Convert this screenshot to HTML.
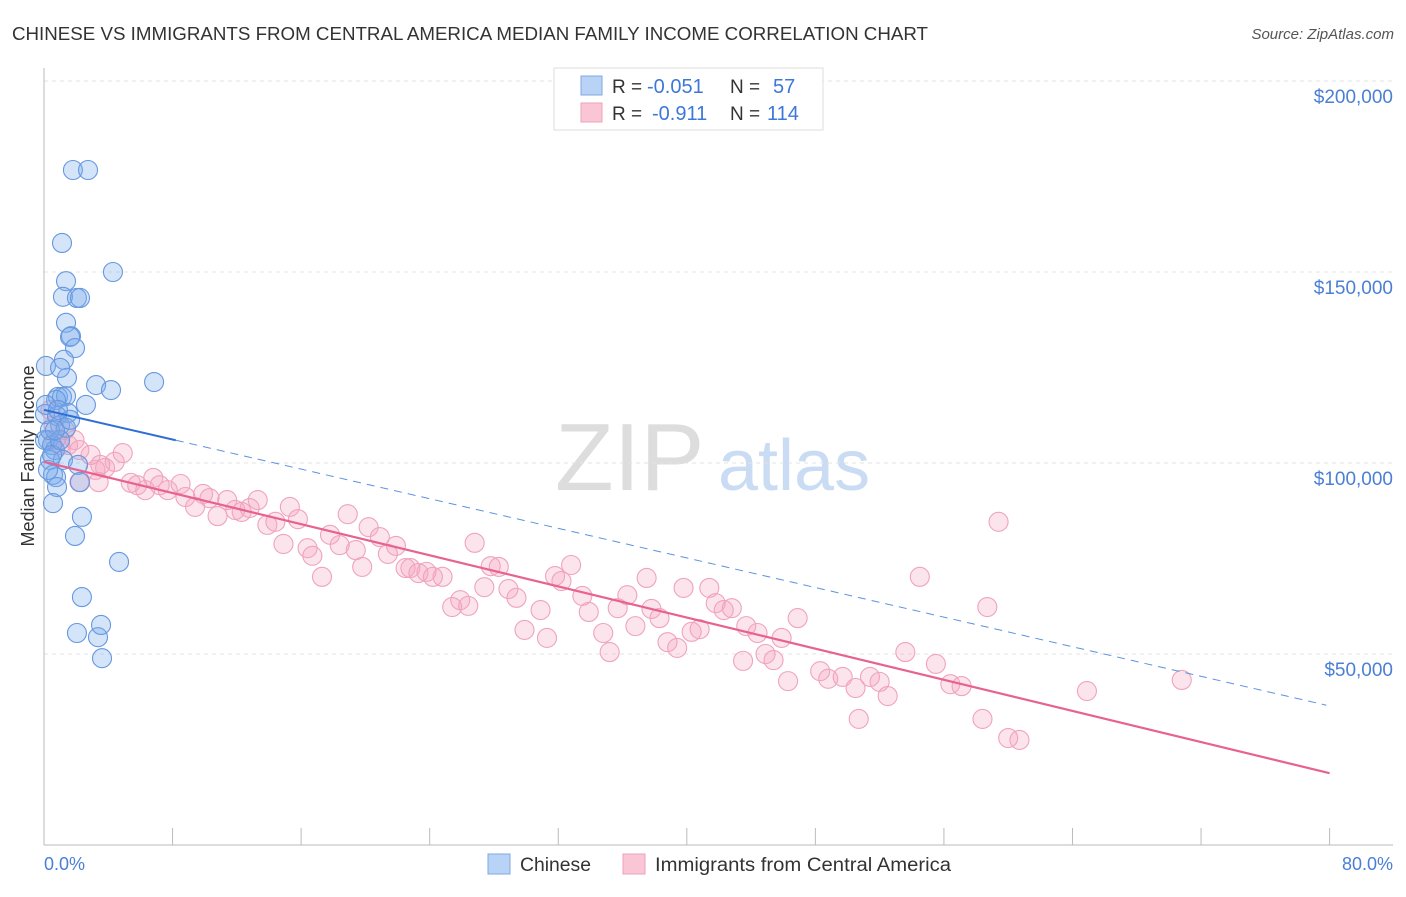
<!DOCTYPE html>
<html><head><meta charset="utf-8"><style>
body{margin:0;background:#fff;font-family:"Liberation Sans",sans-serif;}
svg text{font-family:"Liberation Sans",sans-serif;}
</style></head><body>
<svg id="c" width="1406" height="892" xmlns="http://www.w3.org/2000/svg">
<text x="12" y="40" font-size="18.5" fill="#333" textLength="916" lengthAdjust="spacingAndGlyphs">CHINESE VS IMMIGRANTS FROM CENTRAL AMERICA MEDIAN FAMILY INCOME CORRELATION CHART</text>
<text x="1394" y="39" font-size="15" fill="#555" text-anchor="end" font-style="italic">Source: ZipAtlas.com</text>
<text x="555" y="490" font-size="96" fill="#ddd" font-family="Liberation Serif,serif">ZIP</text>
<text x="718" y="490" font-size="72" fill="#c9dcf3">atlas</text>
<g id="grid"></g>
<line x1="44" y1="68" x2="44" y2="845" stroke="#bbb"/>
<line x1="44" y1="845" x2="1393" y2="845" stroke="#bbb"/>
<text transform="translate(34,456) rotate(-90)" font-size="18" fill="#333" text-anchor="middle">Median Family Income</text>
<text x="44" y="870" font-size="18" fill="#4a7fd4">0.0%</text>
<text x="1393" y="870" font-size="18" fill="#4a7fd4" text-anchor="end">80.0%</text>
<g id="pts"></g>
<g id="lines"></g>
<g>
<rect x="554" y="68" width="269" height="62" fill="#fff" stroke="#ddd"/>
<rect x="581" y="76" width="21" height="19" fill="#b8d3f5" stroke="#7fa9e3"/>
<rect x="581" y="103" width="21" height="19" fill="#fac6d6" stroke="#eea0b8"/>
<text x="612" y="93" font-size="19" fill="#333">R =</text>
<text x="647" y="93" font-size="20" fill="#3d78d8">-0.051</text>
<text x="730" y="93" font-size="19" fill="#333">N =</text>
<text x="773" y="93" font-size="20" fill="#3d78d8">57</text>
<text x="612" y="120" font-size="19" fill="#333">R =</text>
<text x="652" y="120" font-size="20" fill="#3d78d8">-0.911</text>
<text x="730" y="120" font-size="19" fill="#333">N =</text>
<text x="767" y="120" font-size="20" fill="#3d78d8">114</text>
</g>
<g>
<rect x="488" y="854" width="22" height="20" fill="#b8d3f5" stroke="#7fa9e3"/>
<text x="520" y="871" font-size="19" fill="#333" textLength="71" lengthAdjust="spacingAndGlyphs">Chinese</text>
<rect x="623" y="854" width="22" height="20" fill="#fac6d6" stroke="#eea0b8"/>
<text x="655" y="871" font-size="19" fill="#333" textLength="296" lengthAdjust="spacingAndGlyphs">Immigrants from Central America</text>
</g>
</svg>
<script>
const yTicks=[50000,100000,150000,200000];
const yTickLabels=["$50,000","$100,000","$150,000","$200,000"];
const xTicks=[0,8,16,24,32,40,48,56,64,72,80];
const blueX=[1.8,2.74,1.12,4.29,1.37,1.18,2.05,2.24,1.37,1.68,1.62,1.93,1.24,1.43,0.12,1.0,3.24,4.17,6.85,2.61,0.87,1.12,1.37,0.75,1.49,0.06,0.81,1.0,1.37,0.25,0.5,0.68,1.18,0.37,2.12,0.56,0.75,2.24,0.81,0.56,2.36,1.93,4.67,2.36,2.05,3.36,3.55,3.61,0.06,0.37,0.25,0.5,1.0,0.12,0.68,1.62,0.87];
const blueY=[176.7,176.7,157.6,150.0,147.6,143.5,143.2,143.2,136.7,133.2,133.0,130.1,127.0,122.3,125.4,124.9,120.4,119.1,121.2,115.2,117.3,117.3,117.5,116.5,113.1,112.8,112.3,109.9,109.2,106.0,104.7,103.4,100.8,100.8,99.5,96.9,96.3,95.0,93.7,89.5,85.9,80.9,74.1,64.9,55.5,54.4,57.6,48.9,106.0,108.6,98.2,102.1,106.0,115.2,108.6,111.3,113.9];
const pinkX=[0.4,0.6,0.7,1.0,1.3,1.5,1.9,2.2,2.9,3.2,3.4,3.8,4.4,4.9,5.4,5.8,6.3,6.8,7.2,7.7,8.5,8.8,9.4,9.9,10.3,10.8,11.4,11.9,12.3,12.8,13.3,13.9,14.4,14.9,15.3,15.8,16.4,16.7,17.3,17.8,18.4,18.9,19.4,19.8,20.2,20.9,21.4,21.9,22.5,22.8,23.3,23.8,24.2,24.8,25.4,25.9,26.4,26.8,27.4,27.8,28.3,28.9,29.4,29.9,30.9,31.3,31.8,32.2,32.8,33.5,33.9,34.8,35.2,35.7,36.3,36.8,37.5,37.8,38.3,38.8,39.4,39.8,40.3,40.8,41.4,41.8,42.3,42.8,43.5,43.7,44.4,44.9,45.4,45.9,46.3,46.9,48.3,48.8,49.7,50.5,50.7,51.4,52.0,52.5,53.6,54.5,55.5,56.4,57.1,58.4,58.7,59.4,60.0,60.7,64.9,70.8,2.2,3.5];
const pinkY=[113.9,109.9,106.0,104.7,108.6,104.7,106.0,103.4,102.1,98.2,95.0,98.7,100.3,102.6,94.8,94.2,92.9,96.1,94.2,92.9,94.5,91.1,88.5,91.9,90.8,86.1,90.3,87.7,87.2,88.2,90.3,83.8,84.6,78.8,88.5,85.3,77.7,75.7,70.2,81.2,78.5,86.6,77.2,72.8,83.2,80.6,76.2,78.3,72.5,72.5,71.2,71.5,70.2,70.2,62.3,64.1,62.6,79.1,67.5,73.0,72.8,67.0,64.7,56.3,61.5,54.2,70.4,69.1,73.3,65.2,61.0,55.5,50.5,62.0,65.4,57.3,69.9,61.8,59.4,53.1,51.6,67.3,55.8,56.5,67.3,63.3,61.5,62.0,48.2,57.3,55.5,50.0,48.4,54.2,42.9,59.4,45.5,43.5,44.0,41.1,33.0,44.0,42.7,39.0,50.5,70.2,47.4,42.1,41.6,33.0,62.3,84.6,28.0,27.5,40.3,43.2,95.0,99.5];
const blueLine=[113.9,36.4];
const pinkLine=[100.3,18.8];
const X=v=>44+v*16.07;
const Y=v=>463-(v-100000)*191/50000;
const NS="http://www.w3.org/2000/svg";
function mk(t,a,p){const e=document.createElementNS(NS,t);for(const k in a)e.setAttribute(k,a[k]);p.appendChild(e);return e;}
const grid=document.getElementById('grid');
yTicks.forEach((t,i)=>{
 const l=mk('line',{x1:44,x2:1393,y1:Y(t),y2:Y(t),stroke:'#e3e3e3','stroke-dasharray':'4,4'},grid);
 
 
 const tx=mk('text',{x:1393,y:Y(t)+22,'font-size':19,fill:'#4a7fd4','text-anchor':'end'},grid);
 tx.textContent=yTickLabels[i];
 
 
});
xTicks.forEach(t=>{
 const l=mk('line',{x1:X(t),x2:X(t),y1:828,y2:845,stroke:'#bbb'},grid);
 
 
});
const pts=document.getElementById('pts');
pinkX.forEach((x,i)=>{
 const c=mk('circle',{cx:X(x),cy:Y(pinkY[i]*1000),r:9.5,fill:'rgba(244,165,192,0.3)',stroke:'#f0a3bc','stroke-width':1.1},pts);
 
 
});
blueX.forEach((x,i)=>{
 const c=mk('circle',{cx:X(x),cy:Y(blueY[i]*1000),r:9.5,fill:'rgba(120,170,235,0.32)',stroke:'#6798df','stroke-width':1.1},pts);
 
 
});
const lines=document.getElementById('lines');
const bAt=p=>blueLine[0]+(blueLine[1]-blueLine[0])*p/80;
const pAt=p=>pinkLine[0]+(pinkLine[1]-pinkLine[0])*p/80;
let l=mk('line',{x1:X(0),y1:Y(bAt(0)*1000),x2:X(8.2),y2:Y(bAt(8.2)*1000),stroke:'#2e6fd6','stroke-width':2},lines);


l=mk('line',{x1:X(8.2),y1:Y(bAt(8.2)*1000),x2:X(79.8),y2:Y(bAt(79.8)*1000),stroke:'#5d92dd','stroke-width':1,'stroke-dasharray':'8,6'},lines);


l=mk('line',{x1:X(0),y1:Y(pAt(0)*1000),x2:X(80),y2:Y(pAt(80)*1000),stroke:'#e8628f','stroke-width':2.2},lines);


</script>
</body></html>
